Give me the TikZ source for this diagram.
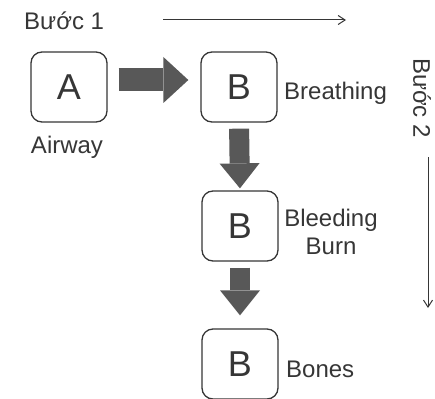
\documentclass[tikz,border=0pt]{standalone}
\usepackage{fontspec}
\setmainfont{Liberation Sans}
\usetikzlibrary{arrows.meta}
\definecolor{inkgray}{HTML}{363636}
\definecolor{arrowgray}{HTML}{585858}
\begin{document}
\begin{tikzpicture}[x=1pt, y=-1pt,
  letterbox/.style = {draw=inkgray, line width=1.3pt, rounded corners=11pt,
    minimum width=76pt, minimum height=70pt, text=inkgray,
    font=\fontsize{36}{40}\selectfont},
  caption/.style = {text=inkgray, inner sep=0pt, font=\fontsize{24}{28}\selectfont},
  bigarrow/.style 2 args = {draw=arrowgray, line width=#1,
    -{Triangle[length=25pt, width=#2, line width=0pt]}}]
\useasboundingbox (0,0) rectangle (435,398);
\begin{scope}[every node/.style = {letterbox}]
\node (A) at (69, 87) {A};
\node (Bb) at (239, 87) {B};
\node (Bl) at (240, 226) {B};
\node (Bo) at (240, 364) {B};
\end{scope}
\begin{scope}[every node/.style = {caption}]
\node[anchor=base] (Aw) at (67, 153) {Airway};
\node[anchor=base west] (Br) at (284, 100) {Breathing};
\node[align=center] (Bd) at (331, 232) {Bleeding\\Burn};
\node[anchor=base west] (Bn) at (286, 377) {Bones};
\node[anchor=base west] (S1) at (24, 30) {Bước 1};
\node[rotate=-90] (S2) at (422, 98) {Bước 2};
\end{scope}
\coordinate (h0) at (163, 20);
\coordinate (h1) at (346, 20);
\coordinate (v0) at (428, 157);
\coordinate (v1) at (428, 308);
\draw[bigarrow={23pt}{46pt}, shorten <=11pt, shorten >=12pt] ([yshift=7pt]A.east) -- ([yshift=7pt]Bb.west);
\draw[bigarrow={20pt}{40pt}, shorten <=6pt, shorten >=2pt] (Bb.south) -- (Bl.north);
\draw[bigarrow={20pt}{40pt}, shorten <=6pt, shorten >=13pt] (Bl.south) -- (Bo.north);
\draw[inkgray, line width=1pt, -{Straight Barb[length=7pt, width=9pt]}] (h0) -- (h1);
\draw[inkgray, line width=1pt, -{Straight Barb[length=7pt, width=9pt]}] (v0) -- (v1);
\end{tikzpicture}
\end{document}
